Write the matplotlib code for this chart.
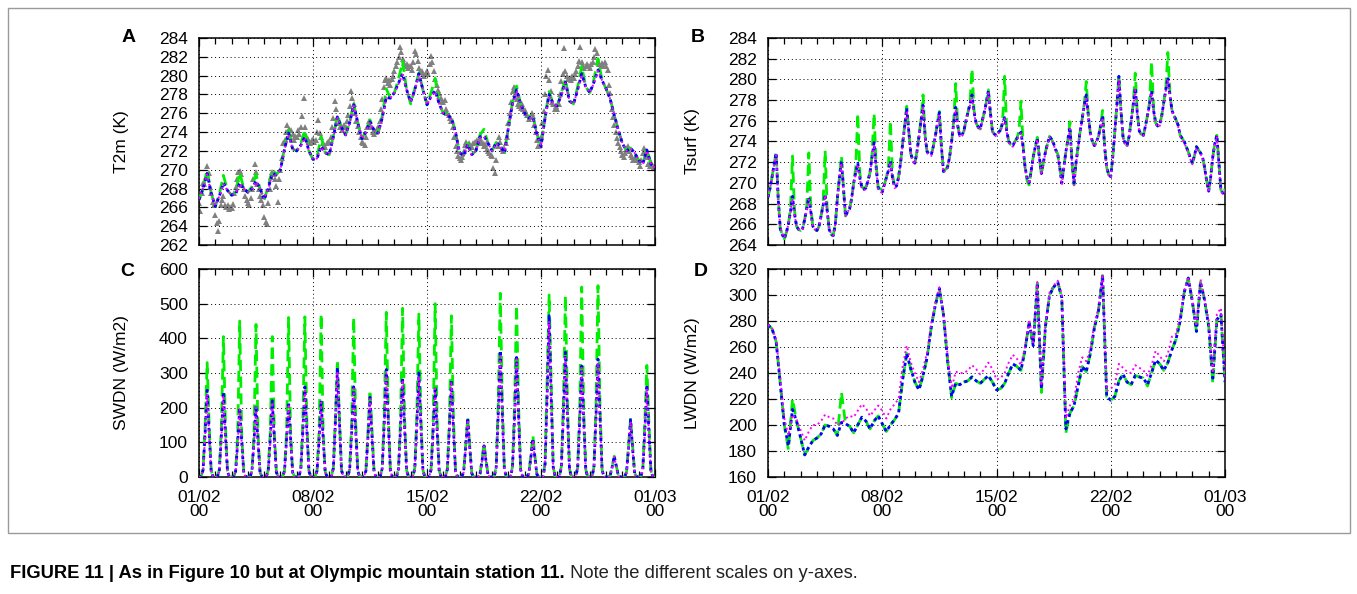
import matplotlib
matplotlib.use("Agg")
import matplotlib.pyplot as plt
from matplotlib.ticker import MultipleLocator, FixedLocator
from matplotlib.patches import Rectangle
import numpy as np

# ---------------- data ----------------
tick_days = [0, 7, 14, 21, 28]
tick_labels = ["01/02\n00", "08/02\n00", "15/02\n00", "22/02\n00", "01/03\n00"]

# Panel A: T2m (K), 6-hourly model values (00,06,12,18 per day)
t2m_green = [
    [266.8, 268.0, 270.0, 267.5], [266.1, 267.4, 269.4, 267.8], [267.3, 267.6, 269.7, 268.0],
    [267.6, 268.2, 269.5, 268.0], [266.8, 268.2, 270.0, 269.5], [270.0, 272.3, 274.2, 272.2],
    [272.0, 272.8, 274.2, 272.0], [271.1, 271.4, 273.5, 271.8], [271.6, 273.6, 275.8, 274.5],
    [273.7, 275.1, 277.0, 275.0], [273.3, 274.1, 275.3, 274.2], [273.9, 275.7, 278.6, 277.6],
    [278.2, 279.6, 281.5, 278.5], [277.0, 278.6, 280.3, 278.5], [276.9, 278.2, 279.7, 277.0],
    [276.0, 275.9, 275.6, 274.0], [271.8, 271.5, 272.8, 271.6], [272.0, 273.7, 274.3, 272.8],
    [272.0, 272.9, 272.6, 271.8], [274.5, 277.2, 278.9, 277.0], [276.0, 275.6, 275.8, 273.8],
    [272.5, 275.6, 278.3, 277.0], [276.8, 278.2, 279.6, 277.3], [277.0, 278.8, 281.0, 278.8],
    [278.2, 279.6, 281.8, 279.5], [278.6, 277.5, 275.8, 274.2], [272.8, 272.0, 272.3, 271.8],
    [271.0, 270.6, 272.2, 270.6], [270.2]]
t2m_blue = [
    [266.8, 268.0, 269.6, 267.5], [266.1, 267.2, 268.6, 267.8], [267.3, 267.4, 268.6, 268.0],
    [267.6, 268.0, 268.8, 268.0], [266.8, 268.0, 269.6, 269.5], [270.0, 272.2, 273.9, 272.2],
    [272.0, 272.6, 273.5, 272.0], [271.1, 271.2, 272.5, 271.8], [271.6, 273.5, 275.6, 274.5],
    [273.7, 275.0, 276.9, 275.0], [273.3, 274.0, 275.1, 274.2], [273.9, 275.5, 277.7, 277.6],
    [278.2, 279.2, 280.2, 278.5], [277.2, 278.5, 280.2, 278.5], [276.9, 277.8, 278.4, 277.0],
    [276.0, 275.8, 275.5, 274.0], [271.8, 271.5, 272.7, 271.6], [272.0, 273.5, 273.6, 272.8],
    [272.0, 272.9, 272.5, 271.8], [274.5, 277.0, 278.5, 277.0], [276.0, 275.5, 275.6, 273.8],
    [272.5, 275.5, 278.0, 277.0], [276.8, 278.0, 279.3, 277.3], [277.0, 278.5, 280.2, 278.8],
    [278.2, 279.3, 280.6, 279.5], [278.6, 277.5, 275.8, 274.2], [272.8, 272.0, 272.3, 271.8],
    [271.0, 270.6, 272.1, 270.6], [270.2]]
t2m_magenta = [
    [266.9, 268.1, 269.5, 267.4], [266.2, 267.2, 268.5, 267.8], [267.3, 267.5, 268.5, 268.0],
    [267.6, 268.0, 268.7, 268.0], [266.9, 268.0, 269.5, 269.5], [270.0, 272.1, 273.8, 272.2],
    [272.0, 272.5, 273.4, 272.0], [271.1, 271.2, 272.4, 271.8], [271.6, 273.4, 275.5, 274.5],
    [273.7, 274.9, 276.8, 275.0], [273.3, 274.0, 275.0, 274.2], [273.9, 275.4, 277.6, 277.6],
    [278.2, 279.1, 280.1, 278.5], [277.2, 278.4, 280.1, 278.5], [276.9, 277.7, 278.3, 277.0],
    [276.0, 275.8, 275.4, 274.0], [271.8, 271.5, 272.6, 271.6], [272.0, 273.4, 273.5, 272.8],
    [272.0, 272.8, 272.4, 271.8], [274.5, 276.9, 278.4, 277.0], [276.0, 275.5, 275.5, 273.8],
    [272.5, 275.4, 277.9, 277.0], [276.8, 277.9, 279.2, 277.3], [277.0, 278.4, 280.1, 278.8],
    [278.2, 279.2, 280.5, 279.5], [278.6, 277.5, 275.8, 274.2], [272.8, 272.0, 272.2, 271.8],
    [271.0, 270.6, 272.0, 270.6], [270.2]]
# observations, 2-hourly (00,02,...,22 per day)
t2m_obs = [
    [266.5, 265.6, 267.5, 268.6, 268.5, 269.2, 270.4, 269.6, 268.2, 267.5, 266.6, 266.3],
    [265.2, 264.3, 263.5, 264.6, 266.2, 266.8, 267.2, 266.3, 266.0, 266.2, 265.8, 266.0],
    [265.9, 266.4, 267.5, 268.2, 269.0, 269.8, 269.9, 269.5, 268.4, 267.9, 267.2, 266.8],
    [266.5, 266.3, 267.0, 268.0, 269.0, 270.6, 269.8, 268.5, 268.0, 267.2, 266.8, 266.2],
    [265.0, 264.4, 264.2, 266.5, 268.0, 269.2, 269.8, 269.5, 269.0, 268.3, 266.6, 269.0],
    [270.0, 271.2, 272.8, 273.2, 274.0, 274.8, 274.3, 273.5, 274.2, 273.8, 273.2, 273.6],
    [273.5, 274.2, 273.8, 274.5, 275.7, 277.6, 274.5, 273.6, 273.3, 273.0, 272.8, 273.2],
    [273.3, 273.0, 273.2, 274.0, 275.3, 273.9, 273.5, 272.8, 272.6, 272.4, 272.8, 273.0],
    [273.0, 273.5, 274.5, 275.5, 277.3, 276.5, 275.5, 275.0, 274.5, 274.2, 274.5, 274.8],
    [274.5, 275.2, 275.8, 276.8, 278.4, 277.6, 277.0, 276.0, 275.2, 274.6, 274.0, 273.5],
    [273.0, 272.8, 272.6, 273.5, 274.5, 275.2, 274.8, 274.5, 274.0, 273.8, 274.0, 274.3],
    [274.5, 275.2, 276.5, 277.5, 278.8, 279.5, 279.8, 279.2, 279.5, 279.0, 279.6, 280.0],
    [280.5, 281.0, 281.5, 282.0, 283.0, 282.5, 281.8, 281.3, 281.0, 281.2, 280.8, 281.0],
    [281.0, 280.6, 281.5, 282.6, 282.3, 281.6, 280.8, 280.4, 280.5, 280.2, 280.0, 280.3],
    [280.5, 280.2, 281.2, 282.1, 281.5, 280.5, 279.6, 279.0, 278.5, 278.2, 277.6, 277.3],
    [277.2, 277.4, 276.5, 276.0, 275.8, 275.5, 275.2, 274.5, 273.5, 272.5, 272.0, 271.5],
    [271.2, 271.0, 271.4, 272.0, 272.6, 273.0, 272.5, 272.8, 272.6, 272.4, 272.8, 273.0],
    [273.0, 273.2, 272.8, 273.4, 273.0, 272.8, 272.5, 272.7, 272.2, 272.0, 271.8, 271.6],
    [271.5, 270.2, 269.6, 271.0, 272.5, 273.5, 273.0, 272.2, 272.0, 272.3, 272.8, 273.5],
    [275.0, 276.0, 277.2, 278.4, 278.8, 278.0, 277.5, 277.0, 276.8, 276.6, 277.0, 276.5],
    [276.4, 276.0, 275.8, 275.4, 275.6, 276.0, 275.7, 274.8, 274.0, 273.2, 272.5, 272.6],
    [273.5, 275.0, 276.2, 278.0, 280.0, 280.6, 279.5, 278.4, 277.2, 277.0, 276.5, 276.8],
    [276.5, 277.0, 278.0, 279.4, 280.2, 282.9, 280.5, 280.0, 279.6, 279.8, 279.5, 280.0],
    [279.8, 280.2, 280.5, 281.0, 281.6, 283.0, 281.5, 281.0, 280.8, 281.0, 281.2, 281.0],
    [280.8, 281.2, 281.5, 282.0, 282.8, 282.4, 281.6, 281.2, 281.0, 281.3, 281.0, 281.4],
    [281.0, 280.6, 279.0, 278.2, 276.5, 275.6, 274.8, 274.0, 273.4, 272.8, 272.4, 272.0],
    [271.6, 271.4, 271.8, 272.3, 272.5, 272.0, 271.6, 271.3, 271.0, 271.2, 271.5, 271.0],
    [270.8, 270.4, 271.0, 271.8, 272.3, 272.0, 271.4, 270.6, 270.4, 270.8, 270.5, 270.3],
    [270.3]]

# Panel B: Tsurf (K), 3-hourly (00..21 per day)
tsurf_green = [
    [268.6, 269.5, 270.6, 271.8, 273.0, 268.5, 265.6, 265.0], [264.6, 265.2, 266.0, 267.5, 272.6, 267.3, 265.8, 265.5],
    [265.4, 265.6, 266.5, 267.8, 272.9, 267.5, 265.8, 265.5], [265.4, 265.8, 266.8, 268.0, 273.1, 267.5, 265.5, 265.0],
    [265.0, 266.0, 268.5, 270.5, 272.6, 269.5, 266.8, 267.2], [267.5, 268.5, 270.0, 271.5, 276.7, 271.0, 269.6, 269.5],
    [269.6, 270.2, 271.0, 272.8, 276.7, 271.8, 269.6, 269.4], [269.4, 269.8, 270.5, 271.5, 276.0, 270.8, 269.8, 269.9],
    [270.6, 272.0, 273.8, 275.6, 277.4, 275.0, 272.8, 272.2], [271.9, 273.0, 274.5, 276.2, 278.5, 274.6, 273.0, 272.8],
    [272.7, 273.5, 274.5, 275.7, 276.9, 273.5, 271.1, 271.3], [271.5, 272.5, 274.0, 276.0, 279.6, 275.6, 274.5, 274.6],
    [275.0, 276.0, 276.8, 277.8, 281.0, 277.0, 275.8, 275.4], [275.2, 276.0, 276.8, 277.8, 279.0, 276.8, 275.0, 274.7],
    [274.6, 274.9, 275.1, 276.0, 280.3, 275.2, 274.0, 273.7], [273.6, 274.0, 274.3, 275.0, 277.9, 273.8, 271.5, 270.2],
    [269.8, 271.2, 272.5, 273.5, 274.4, 272.5, 270.8, 272.0], [273.0, 273.8, 274.5, 274.2, 273.8, 273.2, 272.8, 271.5],
    [270.2, 271.5, 273.0, 274.2, 275.9, 272.0, 269.8, 272.0], [273.5, 275.0, 276.2, 277.6, 279.8, 276.6, 274.8, 274.0],
    [273.6, 274.0, 274.5, 275.5, 277.0, 273.5, 271.5, 270.8], [270.6, 272.5, 275.0, 277.5, 280.4, 277.0, 274.5, 273.8],
    [273.6, 274.5, 276.0, 277.6, 280.6, 276.8, 275.0, 274.7], [274.6, 275.5, 276.5, 277.8, 281.7, 277.2, 275.8, 275.5],
    [275.6, 276.5, 277.8, 279.2, 282.6, 278.6, 277.0, 276.5], [276.1, 275.6, 274.6, 274.3, 274.0, 273.5, 273.0, 272.4],
    [271.9, 272.6, 273.5, 273.2, 272.9, 272.5, 271.5, 270.2], [269.2, 270.6, 272.5, 273.8, 274.6, 272.0, 269.3, 269.0],
    [269.4]]
tsurf_blue = [
    [268.6, 269.5, 270.6, 271.8, 272.9, 268.5, 265.6, 265.0], [264.6, 265.2, 266.0, 267.2, 268.7, 267.0, 265.8, 265.5],
    [265.4, 265.6, 266.5, 267.5, 268.6, 267.2, 265.8, 265.5], [265.4, 265.8, 266.8, 267.8, 268.9, 267.3, 265.5, 265.0],
    [264.9, 266.0, 268.5, 270.5, 272.1, 269.5, 266.8, 267.2], [267.5, 268.5, 270.0, 271.0, 271.9, 270.5, 269.5, 269.4],
    [269.5, 270.2, 271.0, 272.5, 273.9, 271.5, 269.5, 269.3], [269.1, 269.8, 270.5, 271.2, 272.1, 270.5, 269.6, 269.7],
    [270.5, 272.0, 273.8, 275.5, 277.2, 275.0, 272.8, 272.2], [271.9, 273.0, 274.5, 276.0, 277.5, 274.5, 273.0, 272.8],
    [272.7, 273.5, 274.5, 275.7, 276.8, 273.5, 271.1, 271.3], [271.5, 272.5, 274.0, 275.8, 277.3, 275.5, 274.5, 274.6],
    [275.0, 276.0, 276.8, 277.6, 278.5, 276.8, 275.8, 275.4], [275.2, 276.0, 276.8, 277.8, 278.9, 276.8, 275.0, 274.7],
    [274.6, 274.9, 275.1, 275.8, 276.3, 275.0, 274.0, 273.7], [273.6, 274.0, 274.3, 274.6, 274.9, 273.5, 271.5, 270.5],
    [270.0, 271.2, 272.5, 273.5, 274.3, 272.5, 270.9, 272.0], [273.0, 273.8, 274.5, 274.2, 273.8, 273.2, 272.8, 271.5],
    [270.0, 271.5, 273.0, 274.2, 275.4, 272.0, 270.0, 272.0], [273.5, 275.0, 276.2, 277.5, 278.5, 276.5, 274.8, 274.0],
    [273.6, 274.0, 274.5, 275.5, 276.5, 273.5, 271.5, 270.8], [270.6, 272.5, 275.0, 277.5, 280.3, 277.0, 274.5, 273.8],
    [273.6, 274.5, 276.0, 277.5, 279.2, 276.8, 275.0, 274.7], [274.6, 275.5, 276.5, 277.6, 278.9, 277.0, 275.8, 275.5],
    [275.6, 276.5, 277.8, 279.0, 280.2, 278.5, 277.0, 276.5], [276.1, 275.6, 274.6, 274.3, 274.0, 273.5, 273.0, 272.4],
    [271.9, 272.6, 273.5, 273.2, 272.9, 272.5, 271.5, 270.2], [269.2, 270.6, 272.5, 273.8, 274.6, 272.0, 269.3, 269.0],
    [269.3]]
tsurf_magenta = [
    [268.7, 269.5, 270.5, 271.7, 272.7, 268.4, 265.7, 265.1], [264.7, 265.2, 266.0, 267.1, 268.5, 266.9, 265.8, 265.5],
    [265.4, 265.6, 266.4, 267.4, 268.4, 267.1, 265.8, 265.5], [265.4, 265.8, 266.7, 267.7, 268.8, 267.2, 265.5, 265.1],
    [264.9, 266.0, 268.4, 270.4, 271.9, 269.4, 266.8, 267.2], [267.5, 268.5, 269.9, 270.9, 271.8, 270.4, 269.4, 269.3],
    [269.4, 270.1, 270.9, 272.4, 273.7, 271.4, 269.4, 269.2], [269.0, 269.7, 270.4, 271.1, 272.0, 270.4, 269.5, 269.6],
    [270.4, 271.9, 273.7, 275.4, 277.0, 274.9, 272.7, 272.1], [271.8, 272.9, 274.4, 275.9, 277.3, 274.4, 272.9, 272.7],
    [272.6, 273.4, 274.4, 275.6, 276.6, 273.4, 271.0, 271.2], [271.4, 272.4, 273.9, 275.7, 277.1, 275.4, 274.4, 274.5],
    [274.9, 275.9, 276.7, 277.5, 278.3, 276.7, 275.7, 275.3], [275.1, 275.9, 276.7, 277.7, 278.7, 276.7, 274.9, 274.6],
    [274.5, 274.8, 275.0, 275.7, 276.2, 274.9, 273.9, 273.6], [273.5, 273.9, 274.2, 274.5, 274.8, 273.4, 271.4, 270.3],
    [269.9, 271.1, 272.4, 273.4, 274.2, 272.4, 270.8, 271.9], [272.9, 273.7, 274.4, 274.1, 273.7, 273.1, 272.7, 271.3],
    [269.8, 271.4, 272.9, 274.1, 275.2, 271.9, 269.8, 271.9], [273.4, 274.9, 276.1, 277.4, 278.3, 276.4, 274.7, 273.9],
    [273.5, 273.9, 274.4, 275.4, 276.3, 273.4, 271.4, 270.7], [270.5, 272.4, 274.9, 277.4, 280.0, 276.9, 274.4, 273.7],
    [273.5, 274.4, 275.9, 277.4, 279.0, 276.7, 274.9, 274.6], [274.5, 275.4, 276.4, 277.5, 278.7, 276.9, 275.7, 275.4],
    [275.5, 276.4, 277.7, 278.9, 280.0, 278.4, 276.9, 276.4], [276.0, 275.5, 274.5, 274.2, 273.9, 273.4, 272.9, 272.3],
    [271.8, 272.5, 273.4, 273.1, 272.8, 272.4, 271.4, 270.1], [269.1, 270.5, 272.4, 273.7, 274.5, 271.9, 269.2, 268.9],
    [269.2]]

# Panel C: SWDN (W/m2), 3-hourly
swdn_green = [
    [0, 0, 22, 150, 330, 150, 18, 0], [0, 0, 22, 147, 405, 147, 18, 0], [0, 0, 18, 120, 450, 120, 14, 0],
    [0, 0, 18, 123, 440, 123, 14, 0], [0, 0, 20, 132, 405, 132, 16, 0], [0, 0, 19, 129, 460, 129, 15, 0],
    [0, 0, 23, 156, 462, 156, 18, 0], [0, 0, 20, 132, 470, 132, 16, 0], [0, 0, 27, 170, 338, 170, 21, 0],
    [0, 0, 23, 156, 460, 156, 18, 0], [0, 0, 20, 130, 250, 130, 16, 0], [0, 0, 27, 186, 475, 186, 21, 0],
    [0, 0, 25, 171, 487, 171, 19, 0], [0, 0, 26, 180, 470, 180, 20, 0], [0, 0, 23, 156, 500, 156, 18, 0],
    [0, 0, 24, 168, 465, 168, 19, 0], [0, 0, 15, 92, 170, 92, 11, 0], [0, 0, 8, 50, 97, 50, 6, 0],
    [0, 0, 31, 219, 530, 219, 24, 0], [0, 0, 30, 207, 495, 207, 23, 0], [0, 0, 10, 62, 120, 62, 8, 0],
    [0, 0, 40, 279, 525, 279, 30, 0], [0, 0, 31, 216, 523, 216, 24, 0], [0, 0, 28, 192, 548, 192, 21, 0],
    [0, 0, 29, 204, 552, 204, 22, 0], [0, 0, 5, 33, 60, 33, 4, 0], [0, 0, 14, 90, 170, 90, 11, 0],
    [0, 0, 23, 158, 322, 158, 18, 0], [0]]
swdn_blue = [
    [0, 0, 20, 125, 250, 125, 15, 0], [0, 0, 20, 120, 245, 120, 15, 0], [0, 0, 16, 100, 200, 100, 12, 0],
    [0, 0, 16, 100, 205, 100, 12, 0], [0, 0, 18, 110, 220, 110, 13, 0], [0, 0, 17, 108, 215, 108, 13, 0],
    [0, 0, 21, 130, 260, 130, 16, 0], [0, 0, 18, 110, 220, 110, 13, 0], [0, 0, 25, 158, 315, 158, 19, 0],
    [0, 0, 21, 130, 260, 130, 16, 0], [0, 0, 18, 115, 230, 115, 14, 0], [0, 0, 25, 155, 310, 155, 19, 0],
    [0, 0, 23, 142, 285, 142, 17, 0], [0, 0, 24, 150, 300, 150, 18, 0], [0, 0, 21, 130, 260, 130, 16, 0],
    [0, 0, 22, 140, 280, 140, 17, 0], [0, 0, 14, 85, 170, 85, 10, 0], [0, 0, 7, 45, 90, 45, 5, 0],
    [0, 0, 29, 182, 365, 182, 22, 0], [0, 0, 28, 172, 345, 172, 21, 0], [0, 0, 9, 55, 110, 55, 7, 0],
    [0, 0, 37, 232, 465, 232, 28, 0], [0, 0, 29, 180, 360, 180, 22, 0], [0, 0, 26, 160, 320, 160, 19, 0],
    [0, 0, 27, 170, 340, 170, 20, 0], [0, 0, 5, 30, 60, 30, 4, 0], [0, 0, 13, 82, 165, 82, 10, 0],
    [0, 0, 21, 132, 265, 132, 16, 0], [0]]
swdn_magenta = [
    [0, 0, 18, 118, 240, 118, 14, 0], [0, 0, 18, 115, 235, 115, 14, 0], [0, 0, 15, 96, 195, 96, 11, 0],
    [0, 0, 15, 97, 200, 97, 11, 0], [0, 0, 17, 106, 215, 106, 12, 0], [0, 0, 16, 104, 210, 104, 12, 0],
    [0, 0, 20, 125, 250, 125, 15, 0], [0, 0, 17, 106, 215, 106, 12, 0], [0, 0, 24, 152, 305, 152, 18, 0],
    [0, 0, 20, 126, 255, 126, 15, 0], [0, 0, 17, 112, 225, 112, 13, 0], [0, 0, 24, 150, 300, 150, 18, 0],
    [0, 0, 22, 138, 280, 138, 16, 0], [0, 0, 23, 145, 290, 145, 17, 0], [0, 0, 20, 126, 255, 126, 15, 0],
    [0, 0, 21, 136, 275, 136, 16, 0], [0, 0, 13, 82, 165, 82, 10, 0], [0, 0, 7, 44, 88, 44, 5, 0],
    [0, 0, 28, 176, 355, 176, 21, 0], [0, 0, 27, 168, 340, 168, 20, 0], [0, 0, 8, 52, 105, 52, 6, 0],
    [0, 0, 36, 225, 450, 225, 27, 0], [0, 0, 28, 175, 350, 175, 21, 0], [0, 0, 25, 156, 315, 156, 18, 0],
    [0, 0, 26, 165, 330, 165, 19, 0], [0, 0, 4, 29, 58, 29, 3, 0], [0, 0, 12, 80, 160, 80, 9, 0],
    [0, 0, 20, 126, 255, 126, 15, 0], [0]]

# Panel D: LWDN (W/m2), 6-hourly
lwdn_green = [
    [277, 274, 264, 232], [200, 181, 220, 203], [190, 177, 183, 188], [190, 193, 200, 199],
    [197, 192, 225, 201], [199, 194, 200, 206], [203, 197, 203, 207], [201, 195, 200, 204],
    [209, 235, 255, 243], [233, 227, 238, 252], [275, 292, 305, 285], [250, 221, 232, 231],
    [233, 234, 237, 234], [232, 235, 238, 233], [227, 228, 232, 240], [247, 245, 242, 258],
    [279, 261, 309, 225], [276, 300, 306, 310], [298, 194, 209, 215], [230, 245, 241, 255],
    [275, 288, 315, 222], [219, 222, 234, 239], [233, 231, 238, 237], [236, 230, 240, 250],
    [247, 242, 248, 258], [266, 280, 302, 313], [295, 272, 310, 296], [276, 232, 281, 285],
    [233]]
lwdn_blue = [
    [277, 274, 264, 232], [200, 184, 212, 203], [190, 177, 183, 188], [190, 193, 200, 199],
    [197, 192, 202, 201], [199, 194, 200, 206], [203, 197, 203, 207], [201, 195, 200, 204],
    [209, 235, 255, 243], [233, 227, 238, 252], [275, 292, 305, 285], [250, 222, 232, 231],
    [233, 234, 237, 234], [232, 235, 238, 233], [227, 228, 232, 240], [247, 245, 242, 258],
    [279, 261, 309, 228], [276, 300, 306, 310], [298, 197, 209, 215], [230, 245, 241, 255],
    [275, 288, 315, 222], [219, 222, 234, 239], [233, 231, 238, 237], [236, 231, 240, 250],
    [247, 242, 248, 258], [266, 280, 302, 313], [295, 272, 310, 296], [276, 236, 281, 285],
    [233]]
lwdn_magenta = [
    [277, 274, 266, 236], [205, 192, 208, 204], [196, 188, 195, 200], [200, 203, 208, 206],
    [205, 200, 201, 205], [207, 206, 211, 216], [213, 207, 211, 215], [211, 205, 212, 216],
    [220, 245, 261, 248], [240, 233, 243, 256], [278, 294, 306, 286], [254, 228, 241, 240],
    [240, 242, 246, 243], [239, 243, 248, 243], [235, 236, 240, 248], [254, 251, 246, 260],
    [281, 262, 310, 230], [278, 302, 307, 311], [300, 205, 215, 219], [240, 252, 249, 258],
    [278, 290, 316, 226], [228, 231, 247, 244], [241, 240, 246, 244], [242, 238, 246, 257],
    [253, 249, 255, 268], [270, 283, 303, 314], [296, 276, 312, 297], [280, 240, 285, 290],
    [236]]

panel_letters = ["A", "B", "C", "D"]
y_labels = ["T2m (K)", "Tsurf (K)", "SWDN (W/m2)", "LWDN (W/m2)"]
y_limits = [(262, 284), (264, 284), (0, 600), (160, 320)]
y_steps = [2, 2, 100, 20]
caption_bold = "FIGURE 11 | As in Figure 10 but at Olympic mountain station 11."
caption_rest = " Note the different scales on y-axes."


def flat(rows):
    return np.array([v for r in rows for v in r], dtype=float)


def times(values, per_day):
    return np.arange(len(values)) / per_day


# ---------------- figure ----------------
W, H = 1357, 594
plt.rcParams['font.family'] = ['Liberation Sans', 'DejaVu Sans']
fig = plt.figure(figsize=(W / 100, H / 100), dpi=100)
fig.patch.set_facecolor('white')


def rect(l, t, r, b):
    return [l / W, 1 - b / H, (r - l) / W, (b - t) / H]


axA = fig.add_axes(rect(199, 38, 655, 245))
axB = fig.add_axes(rect(768, 38, 1225, 245))
axC = fig.add_axes(rect(199, 269, 655, 477))
axD = fig.add_axes(rect(768, 269, 1225, 477))
axes = [axA, axB, axC, axD]

GREEN = '#00ee00'
BLUE = '#0000ff'
MAG = '#ff00ff'


def draw(ax, g, b, m, per_day):
    g, b, m = flat(g), flat(b), flat(m)
    ax.plot(times(g, per_day), g, color=GREEN, lw=2.0, linestyle=(0, (4, 2)), zorder=3)
    ax.plot(times(b, per_day), b, color=BLUE, lw=2.0, linestyle=(0, (1.2, 1.2)), zorder=4)
    ax.plot(times(m, per_day), m, color=MAG, lw=1.4, linestyle=(0, (1, 1.6)), zorder=5)


obs = flat(t2m_obs)
axA.plot(times(obs, 12), obs, linestyle='none', marker='^', markersize=3.8,
         color='#808080', markeredgewidth=0, zorder=2)
draw(axA, t2m_green, t2m_blue, t2m_magenta, 4)
draw(axB, tsurf_green, tsurf_blue, tsurf_magenta, 8)
draw(axC, swdn_green, swdn_blue, swdn_magenta, 8)
draw(axD, lwdn_green, lwdn_blue, lwdn_magenta, 4)

for i, ax in enumerate(axes):
    ax.set_xlim(tick_days[0], tick_days[-1])
    ax.set_ylim(*y_limits[i])
    ax.xaxis.set_major_locator(FixedLocator(tick_days))
    ax.xaxis.set_minor_locator(MultipleLocator(1))
    ax.yaxis.set_major_locator(MultipleLocator(y_steps[i]))
    ax.tick_params(which='both', direction='in', top=True, right=True,
                   labelsize=12.5, width=0.9)
    ax.tick_params(which='major', length=6)
    ax.tick_params(which='minor', length=4)
    ax.tick_params(axis='y', pad=8)
    ax.tick_params(axis='x', pad=9)
    ax.grid(True, which='major', color='black', linestyle=(0, (1, 3)), linewidth=0.7)
    ax.set_axisbelow(False)
    for s in ax.spines.values():
        s.set_linewidth(1.1)
    if i >= 2:
        ax.set_xticklabels(tick_labels, linespacing=1.0)
    else:
        ax.set_xticklabels([])
    ax.set_ylabel(y_labels[i], fontsize=12.5)
    ax.yaxis.set_label_coords(-0.153 if i % 2 == 0 else -0.149, 0.5)

letter_pos = [(129, 37), (698, 37), (127, 271), (701, 271)]
for (x, y), s in zip(letter_pos, panel_letters):
    fig.text(x / W, 1 - y / H, s, fontsize=14, fontweight='bold', ha='center', va='center')

# outer frame
fig.add_artist(Rectangle((8 / W, 1 - 533 / H), (1350 - 8) / W, (533 - 8) / H,
                         transform=fig.transFigure, fill=False, edgecolor='#9a9a9a', lw=1.0))

# caption
t1 = fig.text(10 / W, 1 - 573 / H, caption_bold, fontsize=13.2, fontweight='bold',
              ha='left', va='center')
fig.canvas.draw()
bb = t1.get_window_extent()
fig.text(bb.x1 / W, 1 - 573 / H, caption_rest, fontsize=13.2, ha='left', va='center',
         color='#222222')

fig.savefig('out.png', dpi=100)
